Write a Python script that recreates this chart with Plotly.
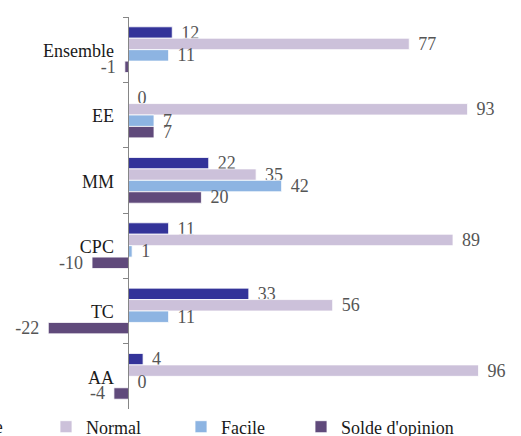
import plotly.graph_objects as go

# Survey results by group (percent), plus the opinion balance
categories = ["Ensemble", "EE", "MM", "CPC", "TC", "AA"]
difficile = [12, 0, 22, 11, 33, 4]
normal = [77, 93, 35, 89, 56, 96]
facile = [11, 7, 42, 1, 11, 0]
solde = [-1, 7, 20, -10, -22, -4]

series = [
    ("Difficile", difficile, "#333399"),
    ("Normal", normal, "#CCC1DA"),
    ("Facile", facile, "#8DB4E2"),
    ("Solde d'opinion", solde, "#604A7B"),
]

W, H = 521, 436
X_MIN, X_MAX = -35.24, 107.65
FONT = "Liberation Serif"
SP = "\u2004"  # small gap between bar end and its value


def labels(vals):
    return [(f"{v}{SP}" if v < 0 else f"{SP}{v}") for v in vals]


fig = go.Figure()
for name, vals, color in series:
    fig.add_trace(go.Bar(
        name=name,
        y=categories,
        x=vals,
        orientation="h",
        marker=dict(color=color, line=dict(color="white", width=0.8)),
        text=labels(vals),
        textposition="outside",
        constraintext="none",
        cliponaxis=False,
        textfont=dict(family=FONT, size=18, color="#555555"),
        showlegend=(name != "Difficile"),
        legendwidth={"Normal": 90, "Facile": 75}.get(name),
    ))

zero_pos = (0 - X_MIN) / (X_MAX - X_MIN)

fig.update_layout(
    width=W,
    height=H,
    barmode="group",
    bargap=0.3,
    bargroupgap=0,
    plot_bgcolor="white",
    paper_bgcolor="white",
    font=dict(family=FONT, size=18, color="#1a1a1a"),
    margin=dict(l=0, r=0, t=17, b=27, pad=0, autoexpand=False),
    xaxis=dict(range=[X_MIN, X_MAX], visible=False, showgrid=False,
               zeroline=False, fixedrange=True),
    yaxis=dict(
        autorange="reversed",
        anchor="free",
        position=zero_pos,
        showline=True,
        linecolor="#868686",
        linewidth=1,
        ticks="outside",
        tickson="boundaries",
        ticklen=5,
        tickcolor="#868686",
        ticklabelstandoff=11,
        ticklabelshift=-1,
        tickfont=dict(family=FONT, size=18, color="#1a1a1a"),
        showgrid=False,
        zeroline=False,
    ),
    legend=dict(
        orientation="h",
        x=46 / W,
        xanchor="left",
        y=-18 / 392,
        yanchor="middle",
        font=dict(family=FONT, size=18, color="#1a1a1a"),
        bgcolor="rgba(0,0,0,0)",
        itemclick=False,
    ),
)

# The first series' legend entry runs off the left edge of the frame
fig.add_annotation(
    text="Difficile",
    xref="paper", yref="paper",
    x=5 / W, y=-18 / 392,
    xanchor="right", yanchor="middle",
    showarrow=False,
    font=dict(family=FONT, size=18, color="#1a1a1a"),
)
fig.add_shape(
    type="rect", xref="paper", yref="paper",
    x0=-80 / W, x1=-68 / W, y0=-12 / 392, y1=-24 / 392,
    fillcolor="#333399", line=dict(width=0),
)

fig.write_html("out.html")
